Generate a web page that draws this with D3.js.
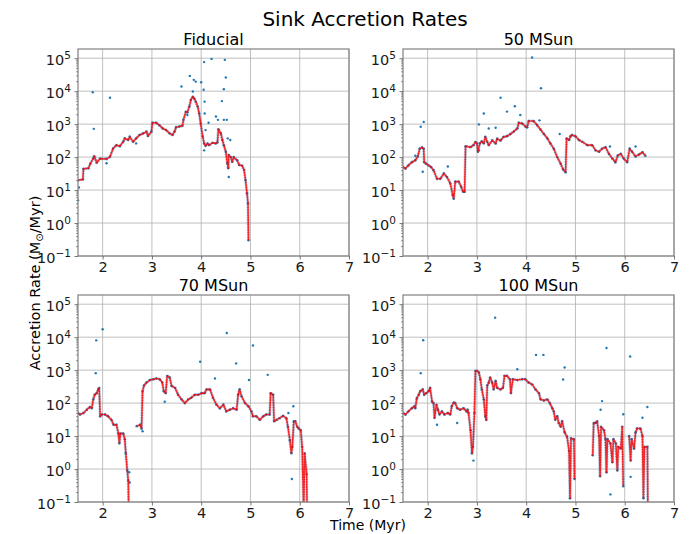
<!DOCTYPE html>
<html>
<head>
<meta charset="utf-8">
<script src="https://cdn.jsdelivr.net/npm/d3@7"></script>
<style>
  body { margin: 0; background: #fff; }
  svg { font-family: "DejaVu Sans", sans-serif; }
</style>
</head>
<body>
<div id="chart"></div>
<script>
const panelTitles = ["Fiducial", "50 MSun", "70 MSun", "100 MSun"];
const xTicks = [2, 3, 4, 5, 6, 7];
const yTicks = [0.1, 1, 10, 100, 1000, 10000, 100000];
const yExp = ["\u22121", "0", "1", "2", "3", "4", "5"];

// [time (Myr), rate (Msun/Myr)], null = gap in the run
const fidLine = [[1.5,20],[1.6,21],[1.61,44],[1.71,46],[1.75,63],[1.81,91],[1.83,107],[1.88,68],[1.95,90],
  [2.08,88],[2.15,102],[2.21,180],[2.28,230],[2.35,215],[2.42,295],[2.45,370],[2.52,330],[2.55,415],[2.62,290],
  [2.68,370],[2.75,470],[2.82,520],[2.89,590],[2.92,440],[2.99,590],[3.01,1100],[3.09,1100],[3.15,930],[3.22,740],
  [3.29,660],[3.36,525],[3.42,470],[3.46,600],[3.49,800],[3.56,850],[3.62,890],[3.64,1350],[3.69,2400],[3.72,2300],
  [3.76,3400],[3.79,5400],[3.83,6800],[3.86,6000],[3.89,4800],[3.93,3400],[3.96,2100],[3.99,1050],[4.03,420],
  [4.06,260],[4.09,220],[4.13,260],[4.16,230],[4.23,270],[4.30,260],[4.33,280],[4.35,700],[4.40,520],[4.43,330],
  [4.46,230],[4.50,145],[4.53,65],[4.55,46],[4.56,115],[4.60,100],[4.63,72],[4.66,100],[4.73,80],[4.77,58],
  [4.83,55],[4.87,41],[4.90,20],[4.93,8],[4.95,4],[4.96,0.3]];
const fidOut = [[1.80,9300],[1.82,720],[2.15,6300],[3.60,13800],[3.77,29000],[3.85,22000],[3.89,19500],[4.00,18600],
  [4.06,76000],[4.21,95000],[4.48,89000],[4.50,26000],[4.46,11500],[4.42,5000],[4.05,11000],[4.07,4800],[4.07,2100],
  [4.15,1100],[4.30,1700],[4.34,1350],[4.46,1350],[4.52,1350],[4.54,370],[4.59,330],[4.09,660],[4.06,160],[4.56,25],
  [3.83,9800],[3.72,1900],[1.5,4.9],[1.52,12],[2.08,65],[2.68,260]];

const m50Line = [[1.5,50],[1.55,45],[1.61,56],[1.68,70],[1.75,80],[1.80,105],[1.84,180],[1.885,195],[1.92,180],
  [1.93,70],[1.97,63],[2.02,56],[2.07,50],[2.12,40],[2.19,22],[2.26,22],[2.33,32],[2.39,25],[2.46,16],[2.51,7],
  [2.53,5.5],[2.56,18],[2.63,18],[2.68,12.7],[2.72,8.9],[2.75,8.9],[2.77,215],[2.87,200],[2.93,230],[2.97,290],
  [3.00,260],[3.02,144],[3.06,260],[3.10,300],[3.14,260],[3.17,410],[3.21,290],[3.24,230],[3.31,320],[3.38,260],
  [3.41,360],[3.48,320],[3.54,410],[3.61,430],[3.68,500],[3.75,600],[3.82,740],[3.85,1100],[3.92,1050],[3.99,830],
  [4.02,800],[4.05,1250],[4.15,1250],[4.22,940],[4.29,690],[4.36,500],[4.43,370],[4.49,260],[4.56,180],[4.63,100],
  [4.70,63],[4.75,42],[4.80,35],[4.82,370],[4.87,330],[4.90,430],[4.93,470],[5.00,430],[5.07,330],[5.14,290],
  [5.24,230],[5.34,230],[5.41,160],[5.48,145],[5.54,180],[5.61,200],[5.68,125],[5.75,90],[5.81,70],[5.86,112],
  [5.92,125],[5.98,90],[6.05,70],[6.10,180],[6.15,145],[6.22,105],[6.29,120],[6.36,140],[6.42,110]];
const m50Out = [[1.86,830],[1.92,1170],[2.41,52],[3.04,980],[3.14,2100],[3.24,740],[3.38,780],[3.48,6300],[3.61,2400],
  [3.77,3500],[3.88,1900],[4.12,105000],[4.30,12300],[4.27,1300],[4.68,500],[5.70,210],[6.22,210],[1.90,36],
  [1.75,110],[3.04,160]];

const m70Line = [[1.5,50],[1.54,45],[1.61,50],[1.68,63],[1.74,76],[1.78,70],[1.81,130],[1.84,180],[1.88,200],
  [1.91,260],[1.93,290],[1.95,40],[1.98,45],[2.05,45],[2.11,40],[2.18,31],[2.22,22],[2.28,22],[2.32,12],[2.34,6],
  [2.36,12],[2.42,12],[2.45,8],[2.47,3],[2.50,0.9],[2.52,0.45],[2.53,0.05],[2.6,null],[2.69,20],[2.76,22],[2.79,17],
  [2.81,230],[2.84,340],[2.89,420],[2.96,500],[3.03,530],[3.09,560],[3.16,530],[3.21,420],[3.24,230],[3.28,200],
  [3.31,670],[3.36,600],[3.40,330],[3.47,290],[3.53,180],[3.60,130],[3.67,100],[3.74,130],[3.80,145],[3.87,180],
  [3.94,180],[4.01,200],[4.07,200],[4.11,260],[4.18,260],[4.24,145],[4.31,90],[4.38,70],[4.45,90],[4.51,56],
  [4.58,63],[4.65,70],[4.72,63],[4.75,180],[4.78,260],[4.82,160],[4.89,100],[4.96,80],[5.02,56],[5.05,40],
  [5.12,40],[5.19,31],[5.26,40],[5.32,45],[5.39,45],[5.41,200],[5.46,180],[5.48,28],[5.53,31],[5.59,35],[5.66,41],
  [5.73,35],[5.76,19],[5.80,7.5],[5.83,3],[5.85,4.7],[5.88,28],[5.91,28],[5.95,19],[5.98,17],[6.02,15],[6.05,4.7],
  [6.08,0.05],[6.10,3],[6.14,0.7],[6.15,0.05]];
const m70Out = [[1.87,8000],[2.00,17400],[1.86,810],[3.98,1800],[4.28,560],[4.52,13400],[4.71,1600],[4.97,500],
  [5.05,5600],[5.35,720],[5.77,50],[5.87,80],[5.84,0.5],[2.55,0.39],[2.54,0.8],[3.26,110],[2.81,14]];

const m100Line = [[1.5,50],[1.55,45],[1.61,56],[1.68,70],[1.73,80],[1.75,70],[1.78,140],[1.82,180],[1.85,230],
  [1.90,260],[1.93,180],[1.97,200],[2.02,230],[2.05,290],[2.09,110],[2.12,100],[2.14,36],[2.18,90],[2.21,63],
  [2.24,45],[2.29,56],[2.34,45],[2.41,50],[2.46,45],[2.49,80],[2.53,105],[2.56,100],[2.60,70],[2.66,63],[2.73,70],
  [2.79,56],[2.81,63],[2.83,50],[2.87,15],[2.90,3],[2.92,4.7],[2.95,50],[2.97,950],[3.00,950],[3.04,850],[3.07,530],
  [3.10,260],[3.14,130],[3.17,40],[3.19,31],[3.21,340],[3.24,420],[3.27,600],[3.31,420],[3.34,260],[3.38,470],
  [3.41,290],[3.48,260],[3.53,290],[3.56,670],[3.61,670],[3.67,530],[3.69,200],[3.73,530],[3.82,500],[3.92,530],
  [3.98,530],[4.05,420],[4.12,370],[4.19,260],[4.26,200],[4.29,130],[4.36,120],[4.43,130],[4.48,100],[4.53,70],
  [4.56,56],[4.59,31],[4.63,40],[4.66,25],[4.70,19],[4.73,28],[4.78,13],[4.83,9.5],[4.87,3.6],[4.89,0.13],
  [4.91,8.5],[4.97,8],[4.98,0.5],[5.2,null],[5.35,2.6],[5.37,25],[5.41,25],[5.44,28],[5.48,10],[5.50,0.6],
  [5.52,19],[5.58,15],[5.61,8],[5.63,0.8],[5.65,8],[5.71,6],[5.75,1.6],[5.77,8],[5.82,6],[5.85,0.9],[5.87,4.7],
  [5.92,4.2],[5.95,19],[5.97,0.3],[6.0,null],[6.09,10],[6.12,1.8],[6.14,8],[6.19,4.2],[6.22,13],[6.25,17],
  [6.32,17],[6.36,10],[6.38,0.13],[6.40,4.7],[6.46,4.7],[6.47,0.05]];
const m100Out = [[1.91,8100],[1.86,810],[3.37,39000],[4.20,2900],[4.35,2900],[3.82,1070],[4.78,1200],[4.75,520],
  [5.63,4700],[5.54,115],[5.51,63],[6.11,2600],[5.97,46],[6.46,76],[6.36,36],[5.71,0.17],[6.12,0.58],[2.19,22],
  [2.60,25],[2.93,1.8]];

const lines = [fidLine, m50Line, m70Line, m100Line];
const outliers = [fidOut, m50Out, m70Out, m100Out];
const origins = [[78, 49], [403, 49], [78, 295], [403, 295]];
const pw = 271, ph = 207;

const svg = d3.select("#chart").append("svg")
  .attr("width", 690).attr("height", 534);

svg.append("text")
  .attr("x", 365).attr("y", 26)
  .attr("text-anchor", "middle")
  .attr("font-size", 20).attr("fill", "#000")
  .text("Sink Accretion Rates");

const minorTicks = [];
for (let e = -1; e < 6; e++) {
  for (let k = 2; k < 10; k++) {
    const v = k * Math.pow(10, e);
    if (v < 1.9e5) minorTicks.push(v);
  }
}

lines.forEach((data, i) => {
  const [x0, y0] = origins[i];
  const x = d3.scaleLinear().domain([1.5, 7]).range([x0, x0 + pw]);
  const y = d3.scaleLog().domain([0.1, 1.9e5]).range([y0 + ph, y0]);
  const g = svg.append("g");

  g.append("clipPath").attr("id", "clip" + i)
    .append("rect").attr("x", x0).attr("y", y0).attr("width", pw).attr("height", ph);

  // grid
  g.append("g").selectAll("line").data(xTicks).join("line")
    .attr("x1", d => x(d)).attr("x2", d => x(d))
    .attr("y1", y0).attr("y2", y0 + ph)
    .attr("stroke", "#b0b0b0").attr("stroke-width", 0.8);
  g.append("g").selectAll("line").data(yTicks).join("line")
    .attr("x1", x0).attr("x2", x0 + pw)
    .attr("y1", d => y(d)).attr("y2", d => y(d))
    .attr("stroke", "#b0b0b0").attr("stroke-width", 0.8);

  const plot = g.append("g").attr("clip-path", `url(#clip${i})`);
  const line = d3.line()
    .defined(d => d[1] != null)
    .x(d => x(d[0])).y(d => y(d[1]));

  // blue halo standing in for the dense sample cloud under the red curve
  plot.append("path").datum(data)
    .attr("d", line)
    .attr("fill", "none")
    .attr("stroke", "#1f77b4")
    .attr("stroke-width", 3)
    .attr("stroke-opacity", 0.45)
    .attr("stroke-dasharray", "1.5 1")
    .attr("stroke-linejoin", "round");

  const pts = data.filter(d => d[1] != null).concat(outliers[i]);
  plot.append("g").selectAll("circle").data(pts).join("circle")
    .attr("cx", d => x(d[0])).attr("cy", d => y(d[1]))
    .attr("r", 1.2).attr("fill", "#1f77b4");

  plot.append("path").datum(data)
    .attr("d", line)
    .attr("fill", "none")
    .attr("stroke", "#ff0000")
    .attr("stroke-width", 1.6)
    .attr("stroke-opacity", 0.8)
    .attr("stroke-linejoin", "round");

  // frame
  g.append("rect")
    .attr("x", x0).attr("y", y0).attr("width", pw).attr("height", ph)
    .attr("fill", "none").attr("stroke", "#808080").attr("stroke-width", 1.2);

  const xAxis = g.append("g")
    .attr("transform", `translate(0,${y0 + ph})`)
    .call(d3.axisBottom(x).tickValues(xTicks).tickSize(3.5).tickPadding(2.5).tickFormat(d3.format("d")));
  const yAxis = g.append("g")
    .attr("transform", `translate(${x0},0)`)
    .call(d3.axisLeft(y).tickValues(yTicks).tickSize(3.5).tickPadding(3.5).tickFormat(""));
  g.append("g")
    .attr("transform", `translate(${x0},0)`)
    .call(d3.axisLeft(y).tickValues(minorTicks).tickSize(2).tickFormat(""))
    .call(a => a.select(".domain").remove())
    .selectAll("line").attr("stroke", "#555").attr("stroke-width", 0.6);

  [xAxis, yAxis].forEach(a => {
    a.select(".domain").remove();
    a.selectAll("line").attr("stroke", "#555").attr("stroke-width", 0.8);
    a.selectAll("text").attr("font-size", 14.5).attr("fill", "#1a1a1a")
      .attr("font-family", "DejaVu Sans");
  });

  yAxis.selectAll(".tick text").each(function(d, j) {
    const t = d3.select(this);
    t.text("10").attr("dy", "0.45em");
    t.append("tspan").attr("dy", "-0.6em").attr("font-size", 10.5).text(yExp[j]);
  });

  g.append("text")
    .attr("x", x0 + pw / 2).attr("y", y0 - 4)
    .attr("text-anchor", "middle")
    .attr("font-size", 16).attr("fill", "#000")
    .text(panelTitles[i]);
});

svg.append("text")
  .attr("x", 368).attr("y", 530)
  .attr("text-anchor", "middle")
  .attr("font-size", 14).attr("fill", "#000")
  .text("Time (Myr)");

const yl = svg.append("text")
  .attr("transform", "translate(40,283) rotate(-90)")
  .attr("text-anchor", "middle")
  .attr("font-size", 14.5).attr("fill", "#000");
yl.append("tspan").text("Accretion Rate (M");
yl.append("tspan").attr("font-size", 10).attr("dy", 3).text("\u2299");
yl.append("tspan").attr("dy", -3).text("/Myr)");
</script>
</body>
</html>
